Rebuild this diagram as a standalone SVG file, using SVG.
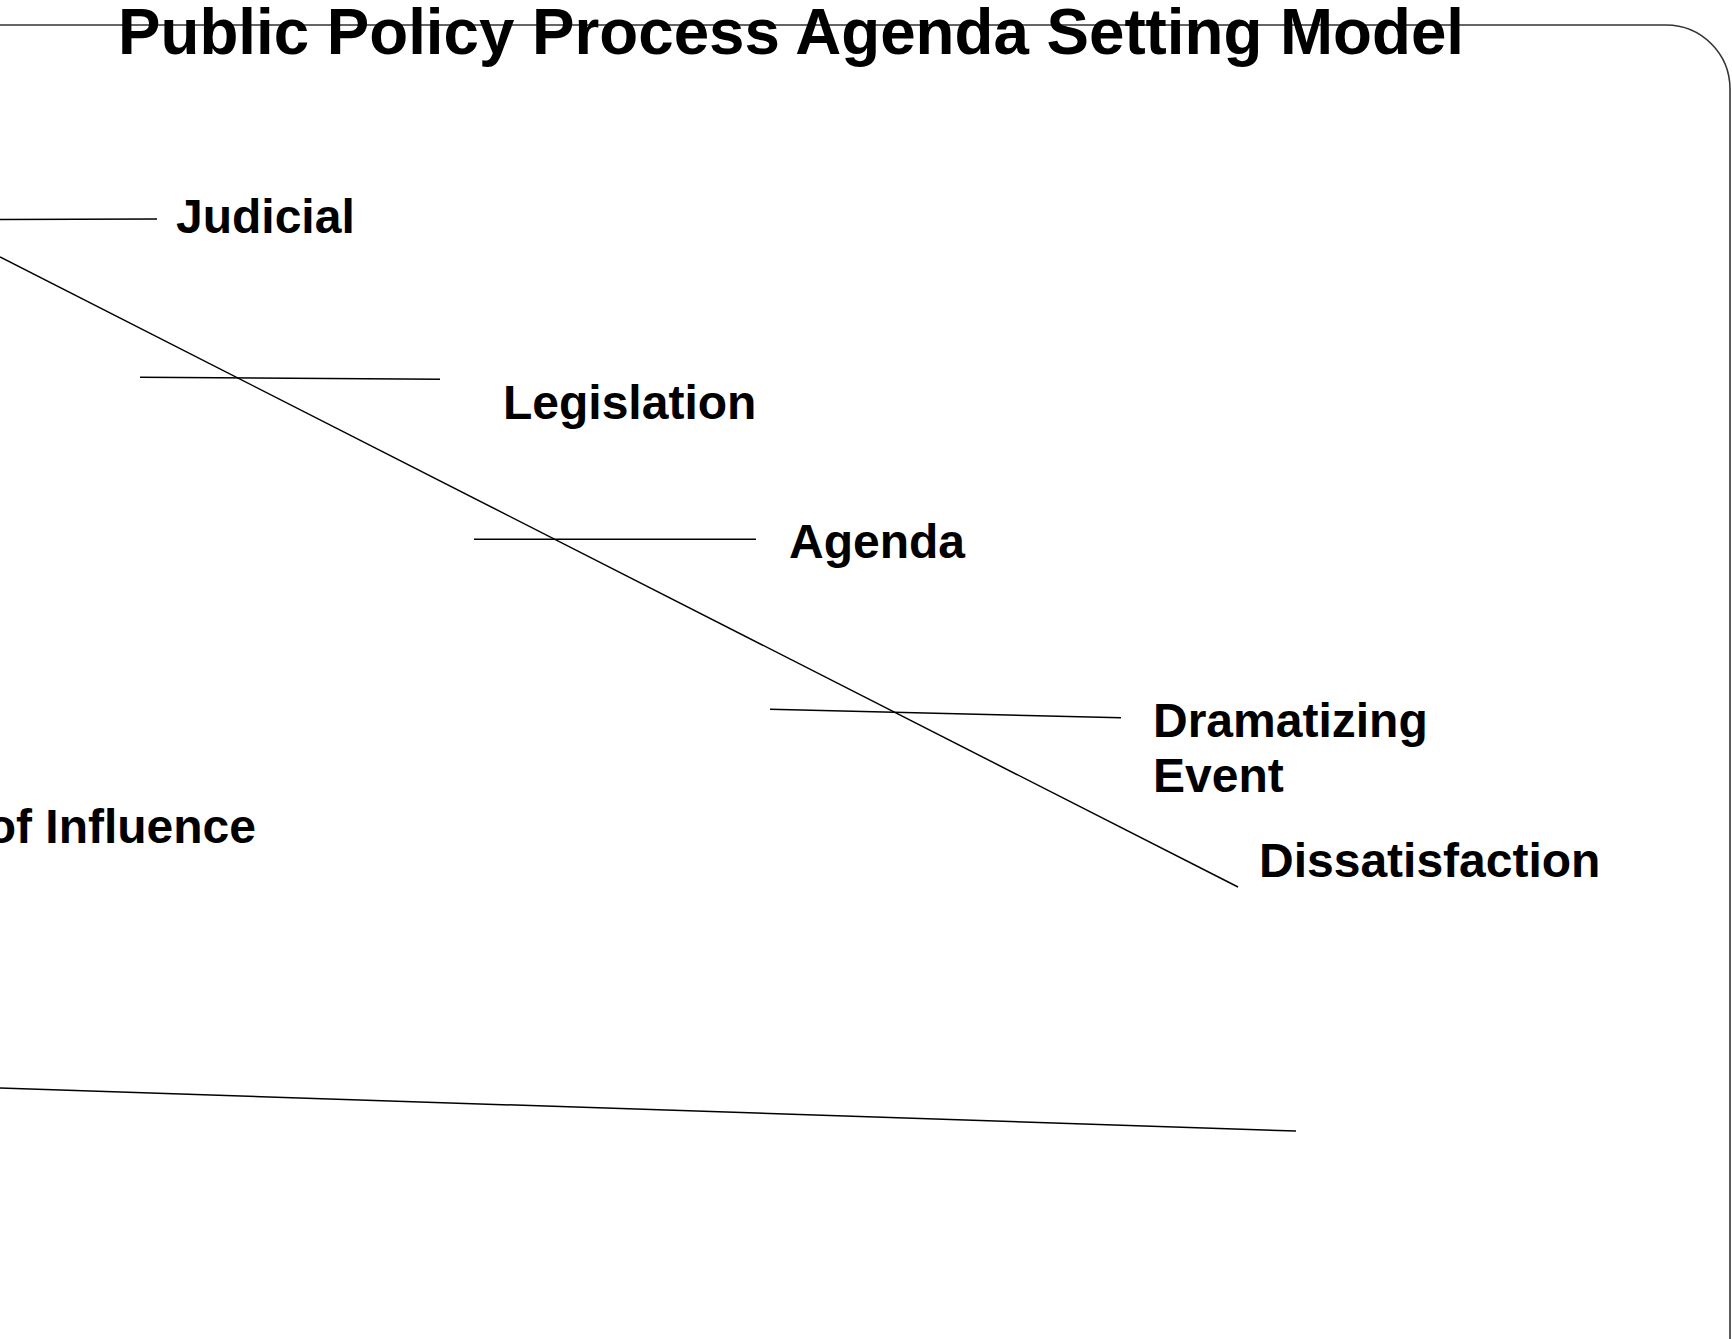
<svg xmlns="http://www.w3.org/2000/svg" width="1732" height="1339" viewBox="0 0 1732 1339">
  <style>
    .frame { fill: none; stroke: #333; stroke-width: 1.6; }
    .rule { fill: none; stroke: #000; stroke-width: 1.5; stroke-linecap: butt; }
    .title { font-family: "Liberation Sans", Arial, sans-serif; font-weight: bold; font-size: 64px; fill: #000; }
    .label { font-family: "Liberation Sans", Arial, sans-serif; font-weight: bold; font-size: 48px; fill: #000; }
  </style>
  <rect width="1732" height="1339" fill="#fff"/>

  <!-- slide frame: top edge with rounded upper-right corner -->
  <path class="frame" d="M0 25 H1666 A64 64 0 0 1 1730 89 V1339"/>

  <text id="title" class="title" x="118" y="54" textLength="1346" lengthAdjust="spacingAndGlyphs">Public Policy Process Agenda Setting Model</text>

  <g id="connectors">
    <line class="rule" x1="0" y1="257" x2="1238" y2="887"/>
    <line class="rule" x1="0" y1="219.5" x2="157" y2="219"/>
    <line class="rule" x1="140" y1="377.3" x2="440" y2="379.3"/>
    <line class="rule" x1="474" y1="539.3" x2="756" y2="539.3"/>
    <line class="rule" x1="770" y1="709.3" x2="1121" y2="717.7"/>
    <line class="rule" x1="0" y1="1088" x2="1296" y2="1131"/>
  </g>

  <g id="judicial"><text class="label" x="176" y="233">Judicial</text></g>
  <g id="legislation"><text class="label" x="503" y="419">Legislation</text></g>
  <g id="agenda"><text class="label" x="789" y="558">Agenda</text></g>
  <g id="dramatizing-event">
    <text class="label" x="1153" y="737">Dramatizing</text>
    <text class="label" x="1153" y="792">Event</text>
  </g>
  <g id="dissatisfaction"><text class="label" x="1259" y="877">Dissatisfaction</text></g>
  <g id="influence"><text class="label" x="256" y="843" text-anchor="end">of Influence</text></g>
</svg>
